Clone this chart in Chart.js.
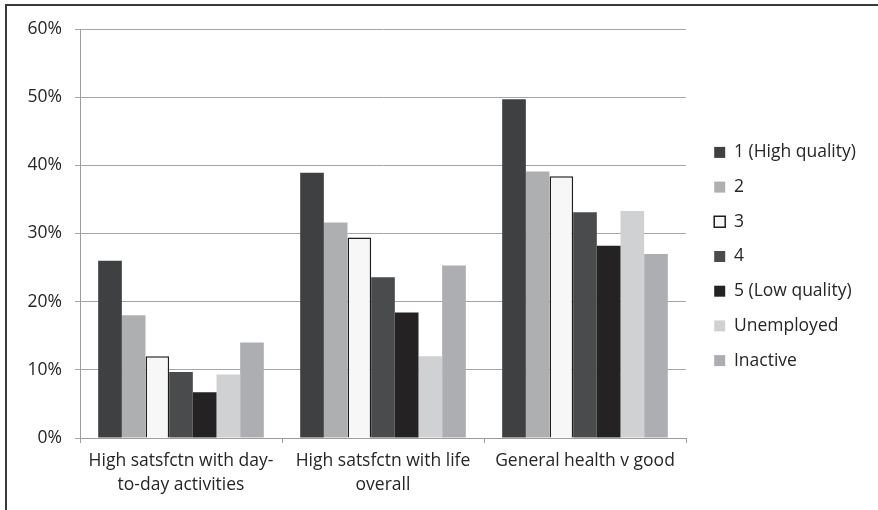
<!DOCTYPE html>
<html>
<head>
<meta charset="utf-8">
<script src="https://cdn.jsdelivr.net/npm/chart.js@4"></script>
<style>
  html, body { margin: 0; padding: 0; background: #ffffff; }
  #wrap { position: relative; width: 878px; height: 510px; }
  #frame { position: absolute; left: 5px; top: 4px; right: -10px; bottom: -10px;
           border-left: 2px solid #3a3a3a; border-top: 2px solid #3a3a3a; pointer-events: none; }
  canvas { position: absolute; left: 0; top: 0; }
</style>
</head>
<body>
<div id="wrap">
  <canvas id="c" width="878" height="510"></canvas>
  <div id="frame"></div>
</div>
<script>
const categories = [
  ["High satsfctn with day-", "to-day activities"],
  ["High satsfctn with life", "overall"],
  ["General health v good"]
];
const seriesNames = ["1 (High quality)", "2", "3", "4", "5 (Low quality)", "Unemployed", "Inactive"];
const q1High     = [26.0, 38.9, 49.7];
const q2         = [18.0, 31.6, 39.1];
const q3         = [12.0, 29.4, 38.4];
const q4         = [9.7, 23.6, 33.1];
const q5Low      = [6.7, 18.4, 28.2];
const unemployed = [9.3, 12.0, 33.3];
const inactive   = [14.0, 25.3, 27.0];
const yTicks = [0, 10, 20, 30, 40, 50, 60];

const seriesValues = [q1High, q2, q3, q4, q5Low, unemployed, inactive];
const fills = ["#3f4042", "#aeafb1", "#f7f7f7", "#4a4b4d", "#252223", "#d0d1d3", "#adaeb1"];

const datasets = seriesNames.map((name, i) => ({
  label: name,
  data: seriesValues[i],
  backgroundColor: fills[i],
  borderColor: i === 2 ? "#1e1e1e" : fills[i],
  borderWidth: i === 2 ? 1.5 : 0,
  categoryPercentage: 0.82,
  barPercentage: 1.0
}));

const legendShift = {
  id: 'legendShift',
  afterLayout(chart) {
    const L = chart.legend;
    if (!L) return;
    const dx = 11, dy = -13;
    L.left += dx; L.top += dy; L.bottom += dy;
    L.right = chart.width;
    L.width = L.right - L.left;
  }
};

const FONT = "'Open Sans', sans-serif";
const FS = 17.5;
Chart.defaults.font.family = FONT;
Chart.defaults.color = "#262626";

new Chart(document.getElementById('c'), {
  type: 'bar',
  data: { labels: categories, datasets },
  plugins: [legendShift],
  options: {
    responsive: false,
    animation: false,
    devicePixelRatio: 1,
    layout: { padding: { top: 29, right: 52, bottom: 0, left: 0 } },
    plugins: {
      tooltip: { enabled: false },
      legend: {
        position: 'right',
        maxWidth: 140,
        labels: {
          boxWidth: 11, boxHeight: 11, padding: 17.2,
          font: { size: FS, family: FONT, lineHeight: 1.0 },
          color: "#262626"
        }
      }
    },
    scales: {
      x: {
        afterFit(scale) { scale.height = 72; },
        grid: { drawOnChartArea: false, drawTicks: true, tickLength: 5, color: "#9d9d9d", offset: true },
        border: { color: "#9d9d9d", width: 1 },
        ticks: { padding: 6, font: { size: FS, family: FONT, lineHeight: 1.37 }, color: "#262626", maxRotation: 0, autoSkip: false }
      },
      y: {
        min: 0, max: 60,
        afterFit(scale) { scale.width = 80; },
        afterBuildTicks(scale) { scale.ticks = yTicks.map(v => ({ value: v })); },
        grid: { color: "#a6a6a6", tickLength: 5, lineWidth: 1 },
        border: { color: "#9d9d9d", width: 1 },
        ticks: { padding: 13, font: { size: FS, family: FONT }, color: "#262626", callback: v => v + '%' }
      }
    }
  }
});
</script>
</body>
</html>
